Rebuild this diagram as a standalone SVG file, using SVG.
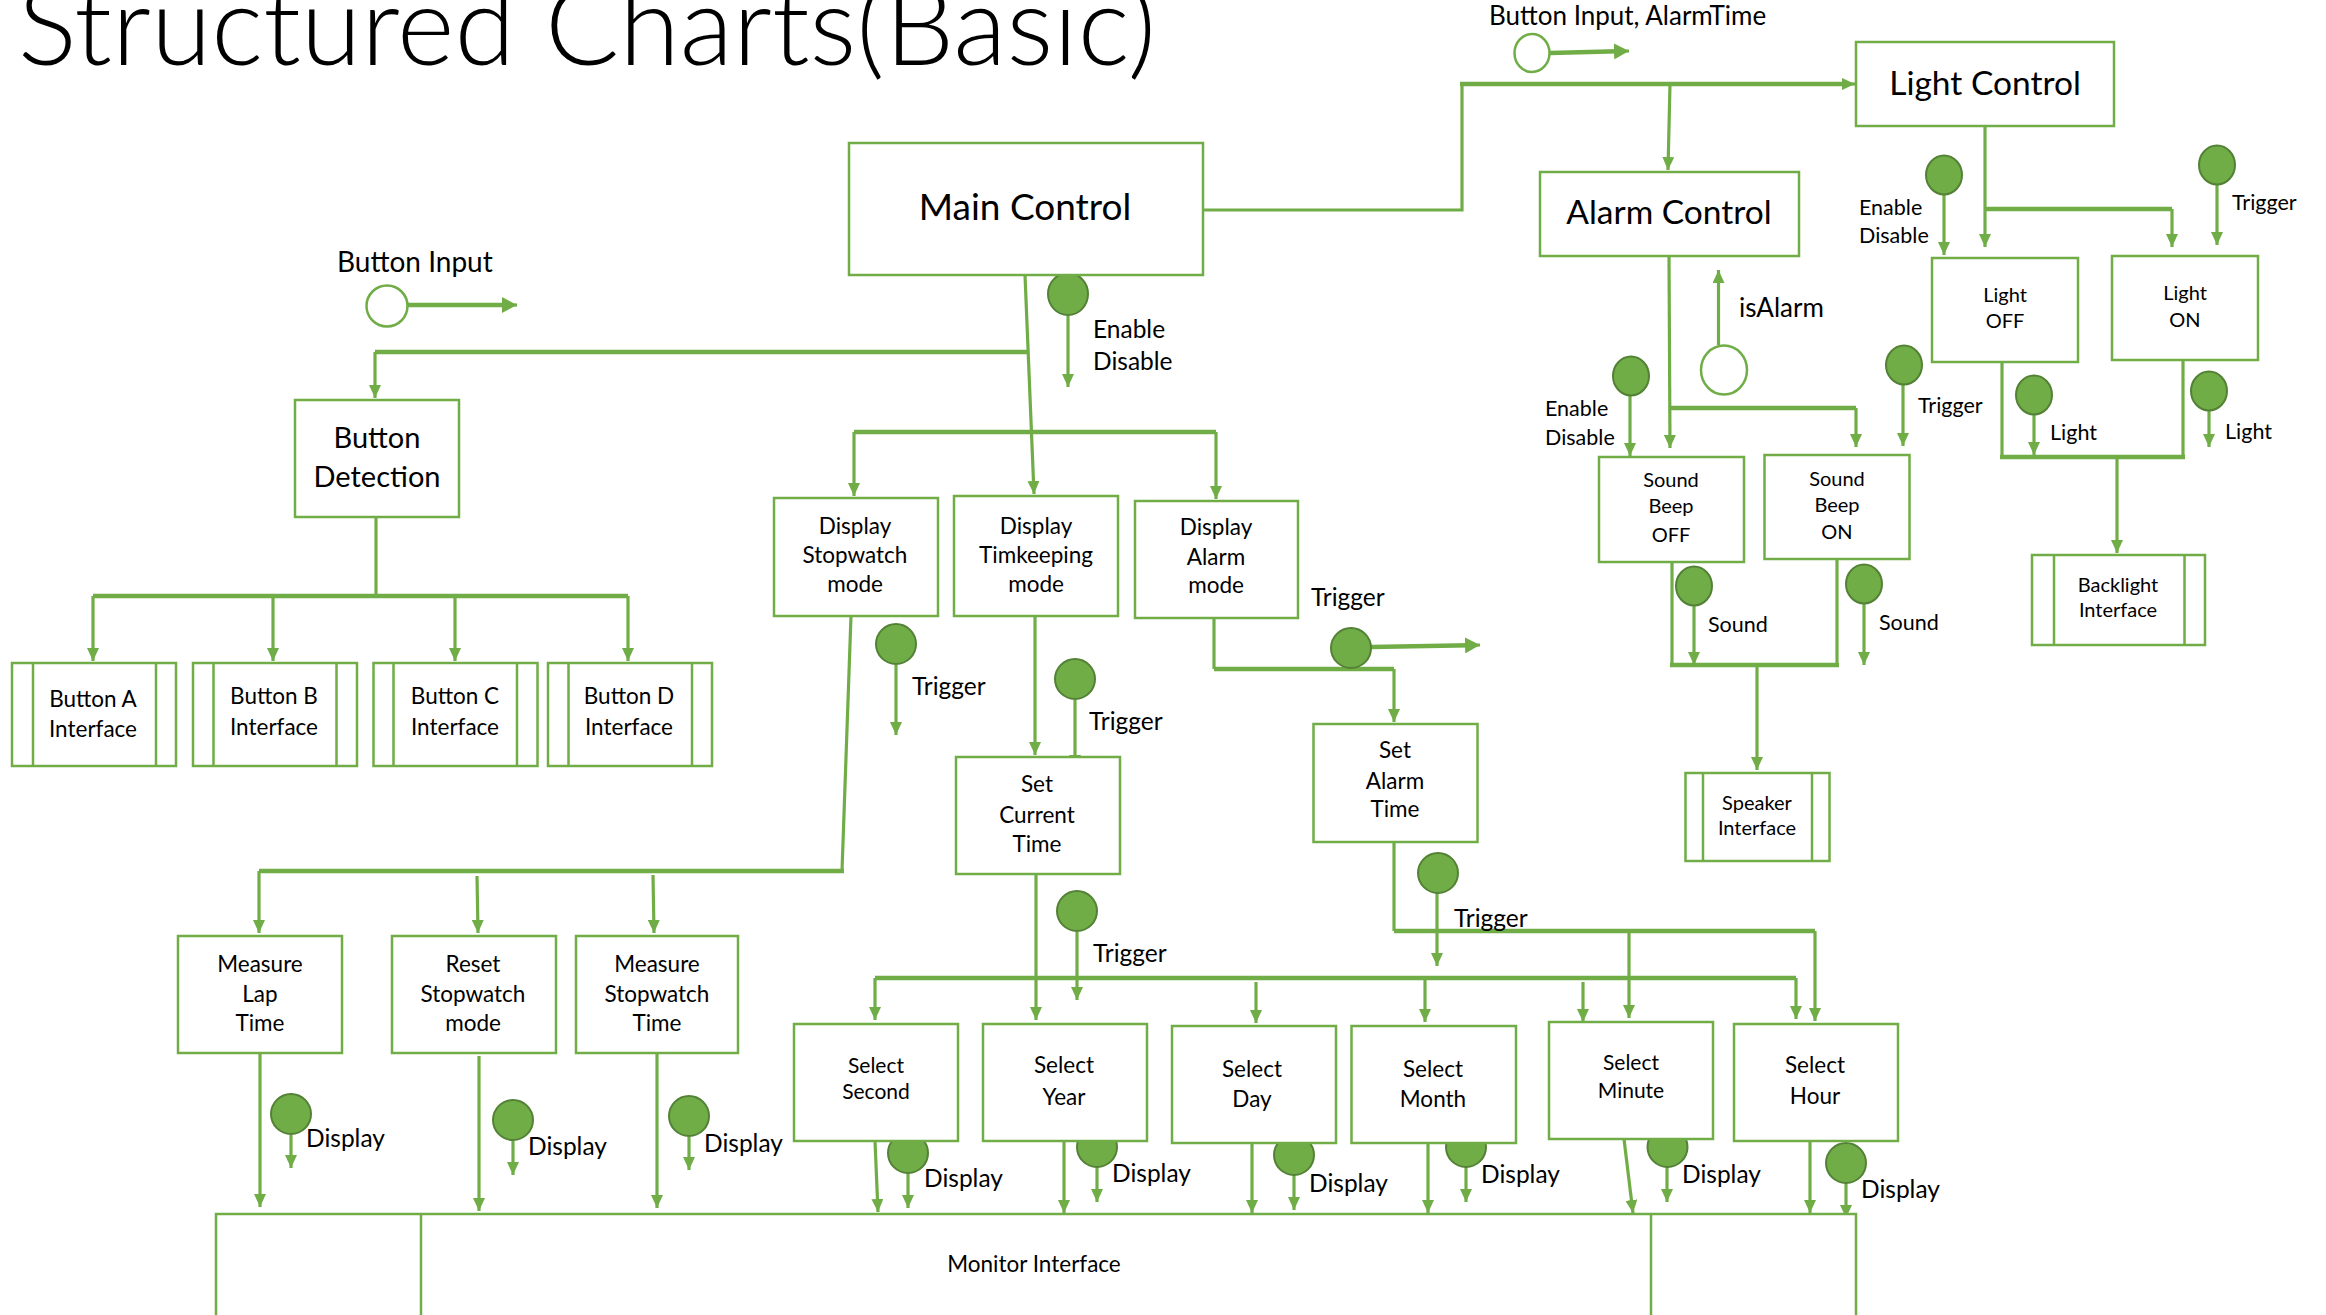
<svg xmlns="http://www.w3.org/2000/svg" width="2326" height="1315" viewBox="0 0 2326 1315">
<defs>
<marker id="ah" markerUnits="userSpaceOnUse" markerWidth="13" markerHeight="12" refX="13" refY="6" orient="auto"><path d="M0,0 L13,6 L0,12 z" fill="#70AD47"/></marker>
<marker id="ahb" markerUnits="userSpaceOnUse" markerWidth="15" markerHeight="16" refX="15" refY="8" orient="auto"><path d="M0,0 L15,8 L0,16 z" fill="#70AD47"/></marker>
<style>
.ln{fill:none;stroke:#70AD47;stroke-width:3.2}
.th{fill:none;stroke:#70AD47;stroke-width:4.6}
.ar{marker-end:url(#ah)}
.box{fill:#fff;stroke:#70AD47;stroke-width:2.5}
.cp{fill:#70AD47;stroke:#538135;stroke-width:2}
.oc{fill:#fff;stroke:#70AD47;stroke-width:2.5}
text{font-family:Lato,"Open Sans","Liberation Sans",sans-serif;fill:#000}
.n{text-anchor:middle}
.title{font-size:110px;font-weight:300}
.f37{font-size:37px}
.f33{font-size:33.5px}
.f29{font-size:29px}
.f22{font-size:22.5px}
.f21{font-size:21px}
.f20{font-size:20px}
.l24{font-size:24.5px}
.l22{font-size:21.5px}
.l28{font-size:28px}
.l26{font-size:26px}
</style>
</defs>

<text class="title" x="18" y="65">Structured Charts(Basic)</text>

<g id="connectors">
<!-- main control -->
<path class="ln ar" d="M1025,275 L1034,494"/>
<path class="th" d="M1027,352 H375"/>
<path class="ln ar" d="M375,352 V398"/>
<path class="th" d="M854,432 H1216"/>
<path class="ln ar" d="M854,432 V496"/>
<path class="ln ar" d="M1216,432 V499"/>
<path class="ln" d="M1203,210 H1462 V84"/>
<path class="th" d="M1460,84 H1842"/>
<path class="ln ar" d="M1840,84 H1855"/>
<path class="ln ar" d="M1670,84 L1668,170"/>
<!-- button detection -->
<path class="ln" d="M376,517 V596"/>
<path class="th" d="M93,596 H628"/>
<path class="ln ar" d="M93,596 V661"/>
<path class="ln ar" d="M273,596 V661"/>
<path class="ln ar" d="M455,596 V661"/>
<path class="ln ar" d="M628,596 V661"/>
<!-- stopwatch -->
<path class="ln" d="M851,616 L842,871"/>
<path class="th" d="M844,871 H259"/>
<path class="ln ar" d="M259,871 V933"/>
<path class="ln ar" d="M477,876 L478,933"/>
<path class="ln ar" d="M653,875 L654,933"/>
<path class="ln ar" d="M260,1053 V1207"/>
<path class="ln ar" d="M479,1056 V1211"/>
<path class="ln ar" d="M657,1053 V1208"/>
<!-- timekeeping -->
<path class="ln ar" d="M1035,616 V755"/>
<path class="ln ar" d="M1036,874 V1020"/>
<path class="th" d="M875,978 H1796"/>
<path class="ln ar" d="M875,978 V1020"/>
<path class="ln ar" d="M1256,982 V1023"/>
<path class="ln ar" d="M1425,978 V1022"/>
<path class="ln ar" d="M1583,982 V1022"/>
<path class="ln ar" d="M1796,978 V1019"/>
<!-- alarm mode -->
<path class="ln" d="M1214,618 V669"/>
<path class="th" d="M1214,669 H1394"/>
<path class="ln ar" d="M1394,669 V722"/>
<path class="ln" d="M1394,842 V931"/>
<path class="th" d="M1394,931 H1815"/>
<path class="ln ar" d="M1815,931 V1021"/>
<path class="ln ar" d="M1629,931 V1018"/>
<!-- select boxes to monitor -->
<path class="ln ar" d="M875,1141 L878,1212"/>
<path class="ln ar" d="M1064,1138 V1213"/>
<path class="ln ar" d="M1252,1143 V1213"/>
<path class="ln ar" d="M1428,1140 V1213"/>
<path class="ln ar" d="M1624,1139 L1633,1213"/>
<path class="ln ar" d="M1810,1138 V1213"/>
<!-- light control -->
<path class="ln ar" d="M1985,126 V247"/>
<path class="th" d="M1985,209 H2172"/>
<path class="ln ar" d="M2172,209 V247"/>
<path class="ln" d="M2002,362 V457"/>
<path class="ln" d="M2183,360 V457"/>
<path class="th" d="M2000,457 H2185"/>
<path class="ln ar" d="M2117,457 V553"/>
<!-- alarm control -->
<path class="ln ar" d="M1669,256 L1670,448"/>
<path class="th" d="M1670,408 H1856"/>
<path class="ln ar" d="M1856,408 V447"/>
<path class="ln" d="M1672,562 V665"/>
<path class="ln" d="M1837,559 V665"/>
<path class="th" d="M1670,665 H1839"/>
<path class="ln ar" d="M1757,665 V770"/>
<!-- data couples -->
<path class="th" d="M408,305 H504"/>
<path class="ln" d="M500,305 H517" marker-end="url(#ahb)"/>
<circle class="oc" cx="387" cy="306" r="20.5"/>
<path class="th" d="M1550,53 L1618,51.3"/>
<path class="ln" d="M1615,51.4 L1629,51" marker-end="url(#ahb)"/>
<ellipse class="oc" cx="1532" cy="53" rx="17.5" ry="19"/>
<path class="ln ar" d="M1718.5,345 V270"/>
<ellipse class="oc" cx="1724" cy="370" rx="23" ry="24.5"/>

<path class="ln ar" d="M1068,316 V387"/>
<ellipse class="cp" cx="1068" cy="294" rx="20" ry="21"/>
<path class="ln ar" d="M896,665 V735"/>
<circle class="cp" cx="896" cy="644" r="20"/>
<path class="ln ar" d="M1075,700 V768"/>
<circle class="cp" cx="1075" cy="679" r="20"/>
<path class="ln ar" d="M1077,932 V1000"/>
<circle class="cp" cx="1077" cy="911" r="20"/>
<path class="th" d="M1371,647 L1470,645.3"/>
<path class="ln" d="M1466,645.4 L1480,645" marker-end="url(#ahb)"/>
<circle class="cp" cx="1351" cy="648" r="20"/>
<path class="ln ar" d="M1437,893 V966"/>
<circle class="cp" cx="1438" cy="873" r="20"/>
<path class="ln ar" d="M291,1135 V1168"/>
<circle class="cp" cx="291" cy="1114" r="20"/>
<path class="ln ar" d="M513,1141 V1175"/>
<circle class="cp" cx="513" cy="1120" r="20"/>
<path class="ln ar" d="M689,1137 V1170"/>
<circle class="cp" cx="689" cy="1116" r="20"/>
<path class="ln ar" d="M908,1173 V1208"/>
<circle class="cp" cx="908" cy="1153" r="20"/>
<path class="ln ar" d="M1097,1167 V1202"/>
<circle class="cp" cx="1097" cy="1147" r="20"/>
<path class="ln ar" d="M1294,1175 V1210"/>
<circle class="cp" cx="1294" cy="1155" r="20"/>
<path class="ln ar" d="M1466,1167 V1202"/>
<circle class="cp" cx="1466" cy="1147" r="20"/>
<path class="ln ar" d="M1667,1167 V1202"/>
<circle class="cp" cx="1667.5" cy="1147" r="20"/>
<path class="ln ar" d="M1846,1183 V1218"/>
<circle class="cp" cx="1846" cy="1163" r="20"/>
<path class="ln ar" d="M1944,194 V255"/>
<ellipse class="cp" cx="1944" cy="175" rx="18" ry="19.5"/>
<path class="ln ar" d="M2217,184 V245"/>
<ellipse class="cp" cx="2217" cy="165" rx="18" ry="19.5"/>
<path class="ln ar" d="M1630,395 V456"/>
<ellipse class="cp" cx="1631" cy="376" rx="18" ry="19.5"/>
<path class="ln ar" d="M1903,384 V446"/>
<ellipse class="cp" cx="1904" cy="365" rx="18" ry="19.5"/>
<path class="ln ar" d="M1694,605 V665"/>
<ellipse class="cp" cx="1694" cy="586" rx="18" ry="19.5"/>
<path class="ln ar" d="M1864,603 V665"/>
<ellipse class="cp" cx="1864" cy="584" rx="18" ry="19.5"/>
<path class="ln ar" d="M2034,414 V455"/>
<ellipse class="cp" cx="2034" cy="395" rx="18" ry="19.5"/>
<path class="ln ar" d="M2209,410 V447"/>
<ellipse class="cp" cx="2209" cy="391" rx="18" ry="19.5"/>

<!-- couple labels -->
<text class="l24" x="1093" y="338">Enable</text>
<text class="l24" x="1093" y="370">Disable</text>
<text class="l28" x="337" y="272">Button Input</text>
<text class="l26" x="1489" y="25">Button Input, AlarmTime</text>
<text class="l26" x="1739" y="317">isAlarm</text>
<text class="l24" x="912" y="695">Trigger</text>
<text class="l24" x="1089" y="730">Trigger</text>
<text class="l24" x="1093" y="962">Trigger</text>
<text class="l24" x="1311" y="606">Trigger</text>
<text class="l24" x="1454" y="927">Trigger</text>
<text class="l22" x="2232" y="210">Trigger</text>
<text class="l22" x="1918" y="413">Trigger</text>
<text class="l22" x="1859" y="215">Enable</text>
<text class="l22" x="1859" y="243">Disable</text>
<text class="l22" x="1545" y="416">Enable</text>
<text class="l22" x="1545" y="445">Disable</text>
<text class="l22" x="1708" y="632">Sound</text>
<text class="l22" x="1879" y="630">Sound</text>
<text class="l22" x="2050" y="440">Light</text>
<text class="l22" x="2225" y="439">Light</text>
<text class="l24" x="306" y="1147">Display</text>
<text class="l24" x="528" y="1155">Display</text>
<text class="l24" x="704" y="1152">Display</text>
<text class="l24" x="924" y="1187">Display</text>
<text class="l24" x="1112" y="1182">Display</text>
<text class="l24" x="1309" y="1192">Display</text>
<text class="l24" x="1481" y="1183">Display</text>
<text class="l24" x="1682" y="1183">Display</text>
<text class="l24" x="1861" y="1198">Display</text>
</g>

<g id="main-control"><rect class="box" x="849" y="143" width="354" height="132"/><text class="n f37" x="1025" y="220">Main Control</text></g>
<g id="light-control"><rect class="box" x="1856" y="42" width="258" height="84"/><text class="n f33" x="1985" y="95">Light Control</text></g>
<g id="alarm-control"><rect class="box" x="1540" y="172" width="259" height="84"/><text class="n f33" x="1669" y="224">Alarm Control</text></g>
<g id="button-detection"><rect class="box" x="295" y="400" width="164" height="117"/><text class="n f29" x="377" y="448">Button</text><text class="n f29" x="377" y="487">Detection</text></g>

<g id="button-a"><rect class="box" x="12" y="663" width="164" height="103"/><path class="box" d="M33,663 V766 M156,663 V766"/><text class="n f22" x="93" y="707">Button A</text><text class="n f22" x="93" y="737">Interface</text></g>
<g id="button-b"><rect class="box" x="193" y="663" width="164" height="103"/><path class="box" d="M213.5,663 V766 M336.5,663 V766"/><text class="n f22" x="274" y="704">Button B</text><text class="n f22" x="274" y="735">Interface</text></g>
<g id="button-c"><rect class="box" x="373.5" y="663" width="164" height="103"/><path class="box" d="M393.5,663 V766 M517,663 V766"/><text class="n f22" x="455" y="704">Button C</text><text class="n f22" x="455" y="735">Interface</text></g>
<g id="button-d"><rect class="box" x="548" y="663" width="164" height="103"/><path class="box" d="M568.5,663 V766 M692,663 V766"/><text class="n f22" x="629" y="704">Button D</text><text class="n f22" x="629" y="735">Interface</text></g>

<g id="display-stopwatch"><rect class="box" x="774" y="498" width="164" height="118"/><text class="n f22" x="855" y="534">Display</text><text class="n f22" x="855" y="563">Stopwatch</text><text class="n f22" x="855" y="592">mode</text></g>
<g id="display-timekeeping"><rect class="box" x="954" y="496" width="164" height="120"/><text class="n f22" x="1036" y="534">Display</text><text class="n f22" x="1036" y="563">Timkeeping</text><text class="n f22" x="1036" y="592">mode</text></g>
<g id="display-alarm"><rect class="box" x="1135" y="501" width="163" height="117"/><text class="n f22" x="1216" y="535">Display</text><text class="n f22" x="1216" y="565">Alarm</text><text class="n f22" x="1216" y="593">mode</text></g>

<g id="set-current-time"><rect class="box" x="956" y="757" width="164" height="117"/><text class="n f22" x="1037" y="792">Set</text><text class="n f22" x="1037" y="823">Current</text><text class="n f22" x="1037" y="852">Time</text></g>
<g id="set-alarm-time"><rect class="box" x="1313.5" y="724" width="164" height="118"/><text class="n f22" x="1395" y="758">Set</text><text class="n f22" x="1395" y="789">Alarm</text><text class="n f22" x="1395" y="817">Time</text></g>

<g id="measure-lap-time"><rect class="box" x="178" y="936" width="164" height="117"/><text class="n f22" x="260" y="972">Measure</text><text class="n f22" x="260" y="1002">Lap</text><text class="n f22" x="260" y="1031">Time</text></g>
<g id="reset-stopwatch"><rect class="box" x="392" y="936" width="164" height="117"/><text class="n f22" x="473" y="972">Reset</text><text class="n f22" x="473" y="1002">Stopwatch</text><text class="n f22" x="473" y="1031">mode</text></g>
<g id="measure-stopwatch-time"><rect class="box" x="576" y="936" width="162" height="117"/><text class="n f22" x="657" y="972">Measure</text><text class="n f22" x="657" y="1002">Stopwatch</text><text class="n f22" x="657" y="1031">Time</text></g>

<g id="select-second"><rect class="box" x="794" y="1024" width="164" height="117"/><text class="n f21" x="876" y="1073">Select</text><text class="n f21" x="876" y="1099">Second</text></g>
<g id="select-year"><rect class="box" x="983" y="1024" width="164" height="117"/><text class="n f22" x="1064" y="1073">Select</text><text class="n f22" x="1064" y="1105">Year</text></g>
<g id="select-day"><rect class="box" x="1172" y="1026" width="164" height="117"/><text class="n f22" x="1252" y="1077">Select</text><text class="n f22" x="1252" y="1107">Day</text></g>
<g id="select-month"><rect class="box" x="1351.5" y="1026" width="164.5" height="117"/><text class="n f22" x="1433" y="1077">Select</text><text class="n f22" x="1433" y="1107">Month</text></g>
<g id="select-minute"><rect class="box" x="1549" y="1022" width="164" height="117"/><text class="n f21" x="1631" y="1070">Select</text><text class="n f21" x="1631" y="1098">Minute</text></g>
<g id="select-hour"><rect class="box" x="1734" y="1024" width="164" height="117"/><text class="n f22" x="1815" y="1073">Select</text><text class="n f22" x="1815" y="1104">Hour</text></g>

<g id="monitor-interface"><rect class="box" x="216" y="1214" width="1640" height="130"/><path class="box" d="M421,1214 V1344 M1651,1214 V1344"/><text class="n f22" x="1034" y="1272">Monitor Interface</text></g>

<g id="light-off"><rect class="box" x="1932" y="258" width="146" height="104"/><text class="n f20" x="2005" y="302">Light</text><text class="n f20" x="2005" y="328">OFF</text></g>
<g id="light-on"><rect class="box" x="2112" y="256" width="146" height="104"/><text class="n f20" x="2185" y="300">Light</text><text class="n f20" x="2185" y="327">ON</text></g>
<g id="sound-beep-off"><rect class="box" x="1599" y="457" width="145" height="105"/><text class="n f20" x="1671" y="487">Sound</text><text class="n f20" x="1671" y="513">Beep</text><text class="n f20" x="1671" y="542">OFF</text></g>
<g id="sound-beep-on"><rect class="box" x="1764.5" y="455" width="145" height="104"/><text class="n f20" x="1837" y="486">Sound</text><text class="n f20" x="1837" y="512">Beep</text><text class="n f20" x="1837" y="539">ON</text></g>
<g id="speaker-interface"><rect class="box" x="1685.5" y="773" width="144" height="88"/><path class="box" d="M1703,773 V861 M1812,773 V861"/><text class="n f20" x="1757" y="810">Speaker</text><text class="n f20" x="1757" y="835">Interface</text></g>
<g id="backlight-interface"><rect class="box" x="2032" y="555" width="173" height="90"/><path class="box" d="M2054,555 V645 M2184.5,555 V645"/><text class="n f20" x="2118" y="592">Backlight</text><text class="n f20" x="2118" y="617">Interface</text></g>
</svg>
